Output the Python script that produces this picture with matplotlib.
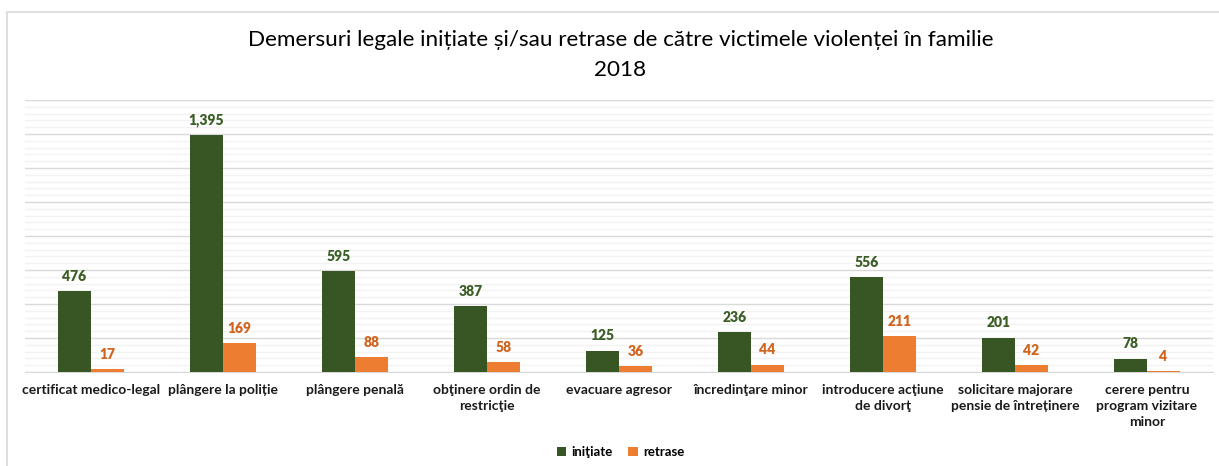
import matplotlib.pyplot as plt
import numpy as np
from matplotlib.patches import Rectangle
from matplotlib.ticker import MultipleLocator

plt.rcParams['font.family'] = ['Lato', 'DejaVu Sans']

categorii = [
    "certificat medico-legal",
    "plângere la poliție",
    "plângere penală",
    "obţinere ordin de\nrestricţie",
    "evacuare agresor",
    "încredinţare minor",
    "introducere acţiune\nde divorţ",
    "solicitare majorare\npensie de întreținere",
    "cerere pentru\nprogram vizitare\nminor",
]
initiate = [476, 1395, 595, 387, 125, 236, 556, 201, 78]
retrase = [17, 169, 88, 58, 36, 44, 211, 42, 4]

VERDE = '#375623'
PORTOCALIU = '#ED7D31'
TEXT_VERDE = '#3B5E26'
TEXT_PORTOCALIU = '#D0641E'

fig = plt.figure(figsize=(12.19, 4.66), dpi=100)
# chenarul graficului
fig.patches.append(Rectangle((7 / 1219, -0.1), 1.2, 1 - 12 / 466 + 0.1,
                             transform=fig.transFigure, fill=False,
                             edgecolor='#D9D9D9', linewidth=1.2))

ax = fig.add_axes([25 / 1219, 1 - 372 / 466, (1213 - 25) / 1219, (372 - 100) / 466])

x = np.arange(len(categorii))
w = 0.25
b1 = ax.bar(x - w / 2, initiate, w, color=VERDE, label='iniţiate', zorder=3)
b2 = ax.bar(x + w / 2, retrase, w, color=PORTOCALIU, label='retrase', zorder=3)

for bars, vals, col in ((b1, initiate, TEXT_VERDE), (b2, retrase, TEXT_PORTOCALIU)):
    for bar, v in zip(bars, vals):
        ax.annotate(f"{v:,}", (bar.get_x() + bar.get_width() / 2, v),
                    xytext=(0, 6), textcoords='offset points', ha='center',
                    va='bottom', fontsize=10, fontweight='heavy', color=col)

ax.set_xlim(-0.5, len(categorii) - 0.5)
ax.set_ylim(0, 1600)
ax.yaxis.set_major_locator(MultipleLocator(200))
ax.yaxis.set_minor_locator(MultipleLocator(40))
ax.grid(axis='y', which='major', color='#D9D9D9', linewidth=1, zorder=0)
ax.grid(axis='y', which='minor', color='#F2F2F2', linewidth=1, zorder=0)
ax.set_axisbelow(True)
for s in ['top', 'right', 'left']:
    ax.spines[s].set_visible(False)
ax.spines['bottom'].set_color('#D9D9D9')
ax.tick_params(axis='y', which='both', left=False, labelleft=False)
ax.tick_params(axis='x', length=0, pad=9)
ax.set_xticks(x)
ax.set_xticklabels(categorii, fontsize=10, fontweight='bold', color='#1A1A1A',
                   va='top', linespacing=1.35)

fig.text(0.509, 1 - 40 / 466, "Demersuri legale inițiate și/sau retrase de către victimele violenței în familie",
         ha='center', va='center', fontsize=16.2, color='black')
fig.text(0.509, 1 - 70 / 466, "2018", ha='center', va='center', fontsize=16.2, color='black')

fig.legend(loc='center', bbox_to_anchor=(0.509, 1 - 452 / 466), ncol=2, frameon=False,
           prop={'size': 9.5, 'weight': 'bold'}, handlelength=0.7, handleheight=0.7,
           columnspacing=1.2, handletextpad=0.4)

fig.savefig('out.png', dpi=100)
